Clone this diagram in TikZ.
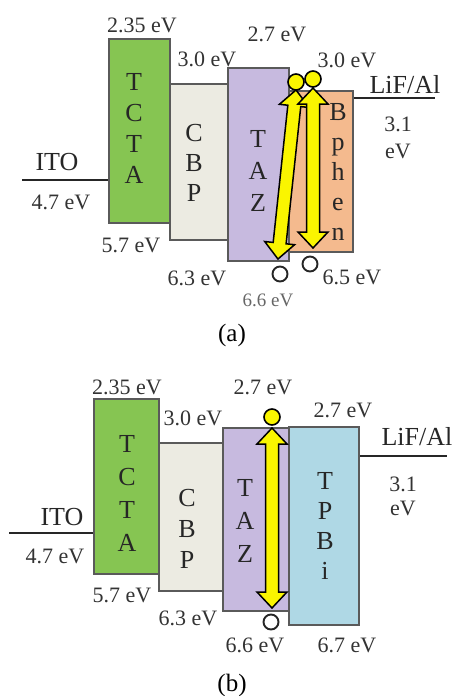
\documentclass[tikz,border=0pt]{standalone}
\usepackage{fontspec}
\setmainfont{Liberation Serif}
\definecolor{tcta}{HTML}{86C552}
\definecolor{cbp}{HTML}{ECEBE2}
\definecolor{taz}{HTML}{C7BADF}
\definecolor{bphen}{HTML}{F4BA8E}
\definecolor{tpbi}{HTML}{AFD8E5}
\definecolor{boxline}{HTML}{5A5A5A}
\definecolor{labgray}{HTML}{333333}
\definecolor{ayellow}{HTML}{FAF500}
\tikzset{
  layer/.style={draw=boxline, line width=1.1pt},
  elec/.style={line width=2.4pt, draw=black!85},
  lab/.style={inner sep=0pt, text=labgray, font=\fontsize{22}{22}\selectfont},
  biglab/.style={inner sep=0pt, text=black!85, align=center, font=\fontsize{26}{26}\selectfont},
  vlab/.style={inner sep=0pt, text=labgray, align=center, font=\fontsize{22}{#1}\selectfont},
  letters/.style={inner sep=0pt, align=center, text=black!85, font=\fontsize{26}{#1}\selectfont},
  captext/.style={inner sep=0pt, text=black, font=\fontsize{25}{25}\selectfont},
  arrowbody/.style={draw=black, line width=1.5pt, fill=ayellow, line join=miter},
  electron/.style={circle, draw=black, line width=1.6pt, fill=ayellow, minimum size=16pt, inner sep=0pt},
  hole/.style={circle, draw=black!85, line width=1.9pt, fill=white, minimum size=15pt, inner sep=0pt},
}
% double arrow from (#1,#2) downward, length #4, rotated by #3
\newcommand{\ydblarrow}[4]{%
  \begin{scope}[shift={(#1,#2)}, rotate=#3]
    \draw[arrowbody] (0,0) -- (15,16) -- (6.5,16) -- (6.5,#4-16) -- (15,#4-16) -- (0,#4)
      -- (-15,#4-16) -- (-6.5,#4-16) -- (-6.5,16) -- (-15,16) -- cycle;
  \end{scope}}
\begin{document}
\begin{tikzpicture}[x=1pt, y=-1pt]
\useasboundingbox[fill=white] (0,0) rectangle (454,696);

% ================= (a) =================
\draw[elec] (22,180) -- (109,180);
\draw[elec] (353,98) -- (435,98);
\filldraw[layer, fill=tcta] (109,39) rectangle (170,223);
\filldraw[layer, fill=cbp] (170,84) rectangle (228,240);
\filldraw[layer, fill=taz] (228,68) rectangle (289,261);
\filldraw[layer, fill=bphen] (289,91) rectangle (353,252);

\node[letters=31] (a-tcta) at (134,128) {T\\C\\T\\A};
\node[letters=30] (a-cbp) at (194,163) {C\\B\\P};
\node[letters=32] (a-taz) at (258,171) {T\\A\\Z};
\node[letters=30] (a-bphen) at (338,172) {B\\p\\h\\e\\n};

\node[lab] (a-l235) at (142,25) {2.35 eV};
\node[lab] (a-l30a) at (207,59) {3.0 eV};
\node[lab] (a-l27) at (277,34) {2.7 eV};
\node[lab] (a-l30b) at (347,60) {3.0 eV};
\node[biglab] (a-lif) at (405,85) {LiF/Al};
\node[vlab=27] (a-l31) at (398,138) {3.1\\eV};
\node[biglab] (a-ito) at (57,162) {ITO};
\node[lab] (a-l47) at (61,202) {4.7 eV};
\node[lab] (a-l57) at (131,245) {5.7 eV};
\node[lab] (a-l63) at (197,278) {6.3 eV};
\node[lab] (a-l65) at (352,277) {6.5 eV};
\node[inner sep=0pt, text=black!60, font=\fontsize{19}{19}\selectfont] (a-l66) at (268,300) {6.6 eV};

\ydblarrow{296}{90}{-6.1}{170}
\ydblarrow{313}{88}{0}{160}
\node[electron] (a-e1) at (296,82) {};
\node[electron] (a-e2) at (313,79) {};
\node[hole] (a-h1) at (280,274) {};
\node[hole] (a-h2) at (310,264) {};

\node[captext] (a-cap) at (232,335) {(a)};

% ================= (b) =================
\draw[elec] (9,533) -- (94,533);
\draw[elec] (359,456) -- (447,456);
\filldraw[layer, fill=tcta] (94,399) rectangle (159,574);
\filldraw[layer, fill=cbp] (159,443) rectangle (223,591);
\filldraw[layer, fill=taz] (223,428) rectangle (289,611);
\filldraw[layer, fill=tpbi] (289,427) rectangle (359,625);

\node[letters=33] (b-tcta) at (127,493) {T\\C\\T\\A};
\node[letters=31] (b-cbp) at (187,529) {C\\B\\P};
\node[letters=33] (b-taz) at (245,521) {T\\A\\Z};
\node[letters=30] (b-tpbi) at (325,526) {T\\P\\B\\i};

\node[lab] (b-l235) at (127,387) {2.35 eV};
\node[lab] (b-l30) at (193,418) {3.0 eV};
\node[lab] (b-l27a) at (263,387) {2.7 eV};
\node[lab] (b-l27b) at (343,410) {2.7 eV};
\node[biglab] (b-lif) at (417,437) {LiF/Al};
\node[vlab=24] (b-l31) at (403,496) {3.1\\eV};
\node[biglab] (b-ito) at (62,517) {ITO};
\node[lab] (b-l47) at (55,556) {4.7 eV};
\node[lab] (b-l57) at (122,595) {5.7 eV};
\node[lab] (b-l63) at (188,618) {6.3 eV};
\node[lab] (b-l66) at (255,645) {6.6 eV};
\node[lab] (b-l67) at (347,645) {6.7 eV};

\ydblarrow{272}{428}{0}{180}
\node[electron] (b-e1) at (272,417) {};
\node[hole] (b-h1) at (271,622) {};

\node[captext] (b-cap) at (232,685) {(b)};
\end{tikzpicture}
\end{document}
